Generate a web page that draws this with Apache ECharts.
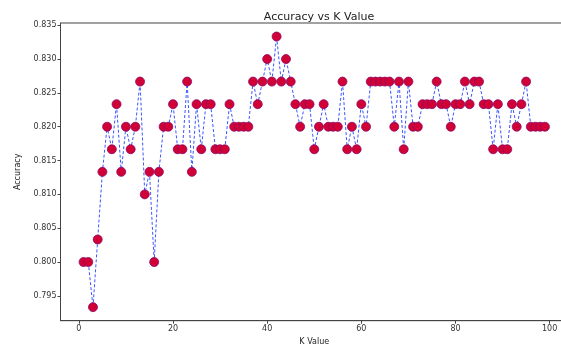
<!DOCTYPE html>
<html>
<head>
<meta charset="utf-8">
<script src="https://cdn.jsdelivr.net/npm/echarts@6/dist/echarts.min.js"></script>
<style>
  html, body { margin: 0; padding: 0; background: #fff; }
  #chart { width: 561px; height: 350px; }
</style>
</head>
<body>
<div id="chart"></div>
<script>
// K values 1..99 and the accuracy (levels are n/300)
const kValues = [];
for (let k = 1; k <= 99; k++) kValues.push(k);
const accuracy = [
  0.80000, 0.80000, 0.79333, 0.80333, 0.81333, 0.82000, 0.81667, 0.82333, 0.81333, 0.82000,
  0.81667, 0.82000, 0.82667, 0.81000, 0.81333, 0.80000, 0.81333, 0.82000, 0.82000, 0.82333,
  0.81667, 0.81667, 0.82667, 0.81333, 0.82333, 0.81667, 0.82333, 0.82333, 0.81667, 0.81667,
  0.81667, 0.82333, 0.82000, 0.82000, 0.82000, 0.82000, 0.82667, 0.82333, 0.82667, 0.83000,
  0.82667, 0.83333, 0.82667, 0.83000, 0.82667, 0.82333, 0.82000, 0.82333, 0.82333, 0.81667,
  0.82000, 0.82333, 0.82000, 0.82000, 0.82000, 0.82667, 0.81667, 0.82000, 0.81667, 0.82333,
  0.82000, 0.82667, 0.82667, 0.82667, 0.82667, 0.82667, 0.82000, 0.82667, 0.81667, 0.82667,
  0.82000, 0.82000, 0.82333, 0.82333, 0.82333, 0.82667, 0.82333, 0.82333, 0.82000, 0.82333,
  0.82333, 0.82667, 0.82333, 0.82667, 0.82667, 0.82333, 0.82333, 0.81667, 0.82333, 0.81667,
  0.81667, 0.82333, 0.82000, 0.82333, 0.82667, 0.82000, 0.82000, 0.82000, 0.82000
];
const xTicks = [0, 20, 40, 60, 80, 100];
const yTicks = [0.795, 0.800, 0.805, 0.810, 0.815, 0.820, 0.825, 0.830, 0.835];

const font = 'DejaVu Sans';
const chart = echarts.init(document.getElementById('chart'));

const option = {
  animation: false,
  title: {
    text: 'Accuracy vs K Value',
    left: 314,
    top: 7,
    textAlign: 'center',
    textStyle: { fontFamily: font, fontSize: 11, fontWeight: 'normal', color: '#222' },
  },
  grid: {
    left: 60.5,
    right: -7,
    top: 23,
    bottom: 29.3,
    outerBoundsMode: 'none',
    show: true,
    borderColor: '#444',
    borderWidth: 1,
  },
  xAxis: {
    type: 'value',
    min: -3.9,
    max: 103.9,
    name: 'K Value',
    nameLocation: 'middle',
    nameGap: 17,
    nameTextStyle: { fontFamily: font, fontSize: 8, color: '#222' },
    axisLine: { show: true, onZero: false, lineStyle: { color: '#444', width: 1 } },
    axisTick: { show: true, length: 3, customValues: xTicks, lineStyle: { color: '#444' } },
    axisLabel: {
      customValues: xTicks,
      fontFamily: font, fontSize: 8, color: '#333', margin: 4,
    },
    splitLine: { show: false },
  },
  yAxis: {
    type: 'value',
    min: 0.79133,
    max: 0.83533,
    name: 'Accuracy',
    nameLocation: 'middle',
    nameGap: 39,
    nameTextStyle: { fontFamily: font, fontSize: 8, color: '#222' },
    axisLine: { show: true, onZero: false, lineStyle: { color: '#444', width: 1 } },
    axisTick: { show: true, length: 3, customValues: yTicks, lineStyle: { color: '#444' } },
    axisLabel: {
      customValues: yTicks,
      fontFamily: font, fontSize: 8, color: '#333', margin: 4,
      formatter: v => v.toFixed(3),
    },
    splitLine: { show: false },
  },
  series: [
    {
      type: 'line',
      data: kValues.map((k, i) => [k, accuracy[i]]),
      symbol: 'circle',
      symbolSize: 9,
      lineStyle: { color: '#3a55ff', width: 1, type: [3, 2] },
      itemStyle: { color: '#d10035', borderColor: '#8a0a6a', borderWidth: 0.8 },
      z: 2,
    },
  ],
};
chart.setOption(option);
</script>
</body>
</html>
